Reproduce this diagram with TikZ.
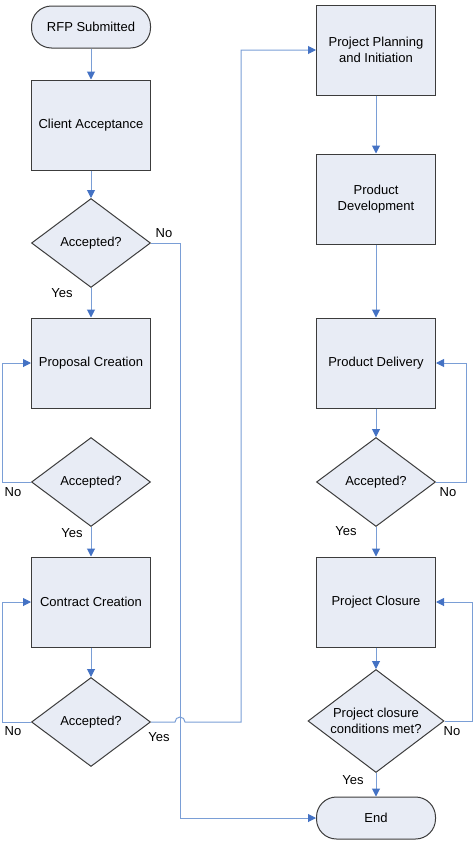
\documentclass[tikz,border=0pt]{standalone}
\usepackage{fontspec}
\setmainfont{Liberation Sans}
\usetikzlibrary{
  positioning,
  arrows.meta,
  shapes.geometric
}
\definecolor{boxfill}{HTML}{E8ECF5}
\definecolor{boxline}{HTML}{3C3C3C}
\definecolor{flow}{HTML}{7A9ED6}
\definecolor{flowtip}{HTML}{4472C4}

\begin{document}
\begin{tikzpicture}[x=1pt, y=-1pt,
  font=\fontsize{13}{16}\selectfont,
  proc/.style={draw=boxline, fill=boxfill, line width=1pt, minimum width=119pt, minimum height=90pt, align=center, inner sep=0pt},
  term/.style={draw=boxline, fill=boxfill, line width=1pt, rounded corners=20pt, minimum width=119pt, minimum height=42pt, inner sep=0pt},
  dec/.style={diamond, draw=boxline, fill=boxfill, line width=1pt, minimum width=119pt, minimum height=89pt, inner sep=0pt, align=center},
  flowline/.style={draw=flow, line width=1pt},
  flowarrow/.style={flowline, -{Triangle[length=8pt, width=8pt, color=flowtip]}},
  lbl/.style={inner sep=0pt}
]
  \useasboundingbox (0,0) rectangle (476,841);

  % left column
  \node[term] (rfp) at (91,27) {RFP Submitted};
  \node[proc] (client) at (91,125) {Client Acceptance};
  \node[dec] (acc1) at (91,243) {Accepted?};
  \node[proc] (proposal) at (91,363) {Proposal Creation};
  \node[dec] (acc2) at (91,482) {Accepted?};
  \node[proc] (contract) at (91,602) {Contract Creation};
  \node[dec] (acc3) at (91,722) {Accepted?};

  % right column
  \node[proc] (planning) at (376,50) {Project Planning\\and Initiation};
  \node[proc] (develop) at (376,199) {Product\\Development};
  \node[proc] (delivery) at (376,363) {Product Delivery};
  \node[dec] (acc4) at (376,482) {Accepted?};
  \node[proc] (closure) at (376,602) {Project Closure};
  \node[dec, minimum width=136pt, minimum height=103pt, inner sep=-7pt, aspect=1.35] (cond) at (376,721) {Project closure\\conditions met?};
  \node[term] (end) at (376,818) {End};

  \coordinate (drop) at (180,243);
  \coordinate (hopL) at (175,722);
  \coordinate (bend) at (241,722);
  \coordinate (loopA) at (2,482);
  \coordinate (loopB) at (2,722);
  \coordinate (loopC) at (466,482);
  \coordinate (loopD) at (472,721);

  % straight flow
  \draw[flowarrow] (rfp) -- (client);
  \draw[flowarrow] (client) -- (acc1);
  \draw[flowarrow] (acc1) -- (proposal);
  \draw[flowarrow] (acc2) -- (contract);
  \draw[flowarrow] (contract) -- (acc3);
  \draw[flowarrow] (planning) -- (develop);
  \draw[flowarrow] (develop) -- (delivery);
  \draw[flowarrow] (delivery) -- (acc4);
  \draw[flowarrow] (acc4) -- (closure);
  \draw[flowarrow] (closure) -- (cond);
  \draw[flowarrow] (cond) -- (end);

  % loops back
  \draw[flowarrow] (acc2.west) -- (loopA) |- (proposal.west);
  \draw[flowarrow] (acc3.west) -- (loopB) |- (contract.west);
  \draw[flowarrow] (acc4.east) -- (loopC) |- (delivery.east);
  \draw[flowarrow] (cond.east) -- (loopD) |- (closure.east);

  % long runs
  \draw[flowarrow] (acc1.east) -- (drop) |- (end.west);
  \draw[flowarrow] (acc3.east) -- (hopL) arc[start angle=180, end angle=0, radius=5pt] -- (bend) |- (planning.west);

  % labels
  \node[lbl] (no1) at (164,233) {No};
  \node[lbl] (yes1) at (62,293) {Yes};
  \node[lbl] (no2) at (13,492) {No};
  \node[lbl] (yes2) at (72,533) {Yes};
  \node[lbl] (no3) at (13,731) {No};
  \node[lbl] (yes3) at (159,737) {Yes};
  \node[lbl] (no4) at (448,492) {No};
  \node[lbl] (yes4) at (346,531) {Yes};
  \node[lbl] (no5) at (452,731) {No};
  \node[lbl] (yes5) at (353,780) {Yes};
\end{tikzpicture}
\end{document}
